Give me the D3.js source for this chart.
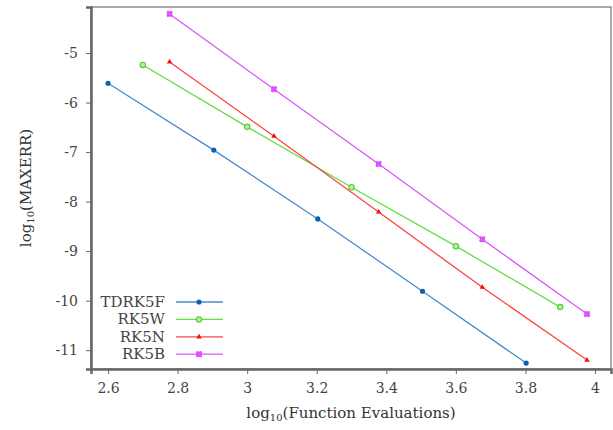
<!DOCTYPE html>
<html>
<head>
<meta charset="utf-8">
<script src="https://cdn.jsdelivr.net/npm/d3@7"></script>
<style>
  body { margin: 0; background: #fff; }
</style>
</head>
<body>
<svg id="chart"></svg>
<script>
// Series data: log10(function evaluations) vs log10(max error)
const seriesNames = ["TDRK5F", "RK5W", "RK5N", "RK5B"];
const tdrk5fX = [2.60, 2.904, 3.203, 3.504, 3.802];
const tdrk5fY = [-5.61, -6.96, -8.35, -9.81, -11.26];
const rk5wX = [2.70, 3.00, 3.30, 3.60, 3.90];
const rk5wY = [-5.24, -6.49, -7.71, -8.90, -10.13];
const rk5nX = [2.777, 3.077, 3.378, 3.676, 3.977];
const rk5nY = [-5.18, -6.68, -8.21, -9.73, -11.20];
const rk5bX = [2.777, 3.077, 3.378, 3.676, 3.977];
const rk5bY = [-4.21, -5.73, -7.24, -8.76, -10.27];
const xTicks = [2.6, 2.8, 3, 3.2, 3.4, 3.6, 3.8, 4];
const yTicks = [-5, -6, -7, -8, -9, -10, -11];

const W = 613, H = 430;
const margin = { top: 7, right: 2, bottom: 61, left: 91 };
const width = W - margin.left - margin.right;
const height = H - margin.top - margin.bottom;
const serif = "DejaVu Serif";

const svg = d3.select("#chart").attr("width", W).attr("height", H);
const g = svg.append("g").attr("transform", "translate(" + margin.left + "," + margin.top + ")");

const x = d3.scaleLinear().domain([2.551, 4.046]).range([0, width]);
const y = d3.scaleLinear().domain([-4.07, -11.38]).range([0, height]);

const series = [
  { name: seriesNames[0], xs: tdrk5fX, ys: tdrk5fY, line: "#4a8ad0", mark: "#0f5fb0", shape: "circle" },
  { name: seriesNames[1], xs: rk5wX, ys: rk5wY, line: "#66dd44", mark: "#55cc33", shape: "ring" },
  { name: seriesNames[2], xs: rk5nX, ys: rk5nY, line: "#ff4444", mark: "#ee1111", shape: "triangle" },
  { name: seriesNames[3], xs: rk5bX, ys: rk5bY, line: "#dd55ff", mark: "#cc22ee", shape: "square" }
];

// frame
g.append("rect").attr("width", width).attr("height", height)
  .attr("fill", "none").attr("stroke", "#555").attr("stroke-width", 1);

// axes
const xAxis = g.append("g").attr("transform", "translate(0," + height + ")")
  .call(d3.axisBottom(x).tickValues(xTicks).tickSize(5).tickPadding(9).tickFormat(d3.format("")));
const yAxis = g.append("g")
  .call(d3.axisLeft(y).tickValues(yTicks).tickSize(5).tickPadding(8).tickFormat(d => d));
[xAxis, yAxis].forEach(a => {
  a.attr("font-family", serif);
  a.select(".domain").attr("stroke", "#666").attr("stroke-width", 2.5);
  a.selectAll(".tick line").attr("stroke", "#666");
  a.selectAll(".tick text").attr("font-size", 14).attr("fill", "#444");
});

function drawMarker(sel, s, cx, cy) {
  if (s.shape === "circle") {
    sel.append("circle").attr("cx", cx).attr("cy", cy).attr("r", 2.6).attr("fill", s.mark);
  } else if (s.shape === "ring") {
    sel.append("circle").attr("cx", cx).attr("cy", cy).attr("r", 2.7)
      .attr("fill", "#b5ee9e").attr("stroke", s.mark).attr("stroke-width", 1.1);
  } else if (s.shape === "triangle") {
    sel.append("path").attr("d", d3.symbol(d3.symbolTriangle, 13)())
      .attr("transform", "translate(" + cx + "," + cy + ")").attr("fill", s.mark);
  } else {
    sel.append("rect").attr("x", cx - 2.5).attr("y", cy - 2.5).attr("width", 5).attr("height", 5)
      .attr("fill", s.mark);
    sel.append("path").attr("d", d3.symbol(d3.symbolCross, 28)())
      .attr("transform", "translate(" + cx + "," + cy + ") rotate(45)").attr("fill", s.line);
  }
}

const line = d3.line().x(d => x(d[0])).y(d => y(d[1]));
series.forEach(s => {
  const pts = s.xs.map((v, i) => [v, s.ys[i]]);
  g.append("path").datum(pts).attr("d", line)
    .attr("fill", "none").attr("stroke", s.line).attr("stroke-width", 1.3);
  const mg = g.append("g");
  pts.forEach(p => drawMarker(mg, s, x(p[0]), y(p[1])));
});

// legend
const legend = g.append("g").attr("transform", "translate(0," + 295 + ")");
series.forEach((s, i) => {
  const row = legend.append("g").attr("transform", "translate(0," + (i * 17.4) + ")");
  row.append("text").attr("x", 74).attr("y", 5).attr("text-anchor", "end")
    .attr("font-family", serif).attr("font-size", 15).attr("fill", "#444").text(s.name);
  row.append("line").attr("x1", 85).attr("x2", 132).attr("y1", 0).attr("y2", 0)
    .attr("stroke", s.line).attr("stroke-width", 1.3);
  drawMarker(row, s, 108, 0);
});

// axis labels
const xl = svg.append("text").attr("x", 351).attr("y", 418).attr("text-anchor", "middle")
  .attr("font-family", serif).attr("font-size", 15).attr("fill", "#333");
xl.append("tspan").text("log");
xl.append("tspan").attr("font-size", 10).attr("dy", 3).text("10");
xl.append("tspan").attr("dy", -3).text("(Function Evaluations)");

const yl = svg.append("text").attr("transform", "translate(31,188) rotate(-90)")
  .attr("text-anchor", "middle").attr("font-family", serif).attr("font-size", 15).attr("fill", "#333");
yl.append("tspan").text("log");
yl.append("tspan").attr("font-size", 10).attr("dy", 3).text("10");
yl.append("tspan").attr("dy", -3).text("(MAXERR)");
</script>
</body>
</html>
